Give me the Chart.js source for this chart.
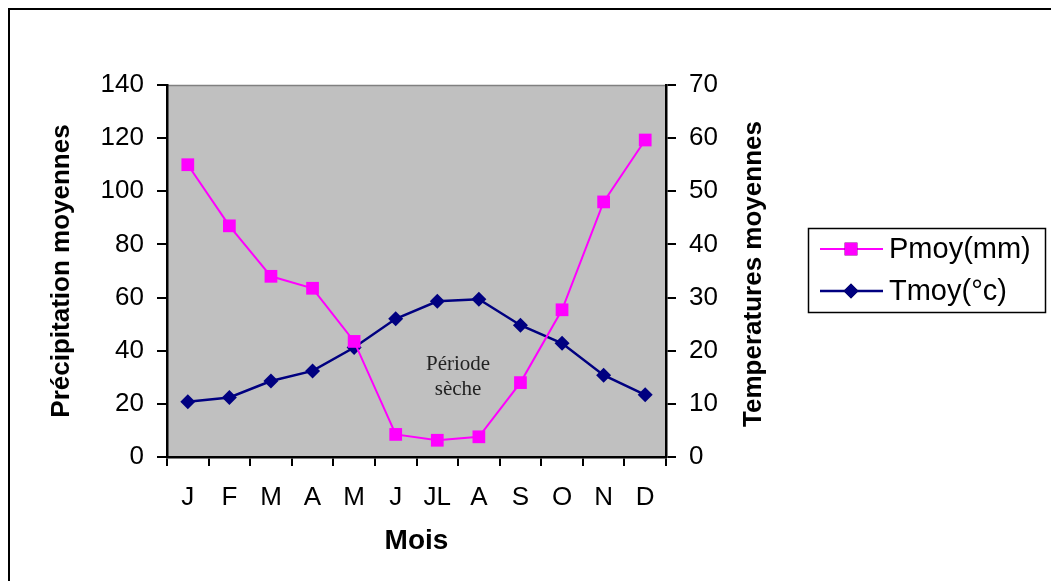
<!DOCTYPE html>
<html>
<head>
<meta charset="utf-8">
<script src="https://cdn.jsdelivr.net/npm/chart.js@4.4.1/dist/chart.umd.min.js"></script>
<style>
  html, body { margin: 0; padding: 0; background: #fff; }
  #wrap { position: relative; width: 1051px; height: 581px; }
</style>
</head>
<body>
<div id="wrap"><canvas id="plot"></canvas></div>
<script>
// donnees
const mois = ['J', 'F', 'M', 'A', 'M', 'J', 'JL', 'A', 'S', 'O', 'N', 'D'];
const pmoy = [110, 87, 68, 63.5, 43.5, 8.5, 6.3, 7.6, 28, 55.4, 96, 119.3];
const tmoy = [10.4, 11.2, 14.3, 16.2, 20.6, 26, 29.3, 29.7, 24.8, 21.4, 15.4, 11.7];
const ticksP = [0, 20, 40, 60, 80, 100, 120, 140];
const ticksT = [0, 10, 20, 30, 40, 50, 60, 70];
const annotation = ['Période', 'sèche'];
const titreDroite = 'Temperatures moyennes';

const police = '"Liberation Sans", Arial, sans-serif';

// fond gris de la zone de tracé + cadre
const fondPlugin = {
  id: 'fond',
  beforeDraw: (chart) => {
    let ctx = chart.ctx;
    let a = chart.chartArea;
    ctx.save();
    ctx.fillStyle = '#c0c0c0';
    ctx.fillRect(a.left, a.top, a.right - a.left, a.bottom - a.top);
    ctx.strokeStyle = '#808080';
    ctx.lineWidth = 1.5;
    ctx.beginPath();
    ctx.moveTo(a.left, a.top + 0.5);
    ctx.lineTo(a.right, a.top + 0.5);
    ctx.stroke();
    // cadre exterieur (haut et gauche)
    ctx.strokeStyle = '#000';
    ctx.lineWidth = 2;
    ctx.beginPath();
    ctx.moveTo(9, chart.height);
    ctx.lineTo(9, 9);
    ctx.lineTo(chart.width, 9);
    ctx.stroke();
    ctx.restore();
  }
};

// texte "Période sèche", titre de droite + légende encadrée
const textePlugin = {
  id: 'texte',
  afterDraw: (chart) => {
    let ctx = chart.ctx;
    let x = chart.scales.x;
    let y = chart.scales.y;
    let cx = (x.getPixelForValue(6) + x.getPixelForValue(7)) / 2;
    ctx.save();
    ctx.fillStyle = '#222';
    ctx.font = '21px "Liberation Serif", "Times New Roman", serif';
    ctx.textAlign = 'center';
    ctx.textBaseline = 'middle';
    ctx.fillText(annotation[0], cx, y.getPixelForValue(35));
    ctx.fillText(annotation[1], cx, y.getPixelForValue(25.5));

    // titre axe droit, lu de bas en haut
    let y1 = chart.scales.y1;
    ctx.save();
    ctx.translate(y1.right - 19, (y1.top + y1.bottom) / 2 + 3);
    ctx.rotate(-Math.PI / 2);
    ctx.fillStyle = '#000';
    ctx.font = 'bold 26px ' + police;
    ctx.fillText(titreDroite, 0, 0);
    ctx.restore();

    // legende
    ctx.strokeStyle = '#000';
    ctx.lineWidth = 1.5;
    ctx.strokeRect(808.5, 228.5, 237, 84);
    let rows = [249, 291];
    chart.data.datasets.forEach((ds, i) => {
      let ly = rows[i];
      ctx.strokeStyle = ds.borderColor;
      ctx.lineWidth = ds.borderWidth;
      ctx.beginPath();
      ctx.moveTo(820, ly);
      ctx.lineTo(883, ly);
      ctx.stroke();
      Chart.helpers.drawPoint(ctx, {
        pointStyle: ds.pointStyle, radius: ds.pointRadius, borderWidth: 0
      }, 851, ly);
      ctx.fillStyle = ds.backgroundColor;
      ctx.fill();
      ctx.fillStyle = '#000';
      ctx.font = '29px ' + police;
      ctx.textAlign = 'left';
      ctx.fillText(ds.label, 889, ly + 1);
    });
    ctx.restore();
  }
};

let axeY = (min, max, pas, position, largeur, titre, padTick) => ({
  type: 'linear',
  position: position,
  min: min,
  max: max,
  afterFit: (s) => { s.width = largeur; },
  afterBuildTicks: (s) => {
    let vals = position === 'left' ? ticksP : ticksT;
    s.ticks = vals.map(v => ({value: v}));
  },
  ticks: { color: '#000', font: { family: police, size: 26 }, padding: padTick, stepSize: pas },
  grid: { drawOnChartArea: false, drawTicks: true, tickLength: 10, color: '#000', lineWidth: 2 },
  border: { display: true, color: '#000', width: 2.5 },
  title: { display: titre !== '', text: titre, color: '#000', font: { family: police, size: 26, weight: 'bold' } }
});

let config = {
  type: 'line',
  data: {
    labels: mois,
    datasets: [
      {
        label: 'Pmoy(mm)',
        data: pmoy,
        yAxisID: 'y',
        borderColor: '#ff00ff',
        backgroundColor: '#ff00ff',
        borderWidth: 2,
        pointStyle: 'rect',
        pointRadius: 9,
        pointBorderWidth: 0,
        tension: 0
      },
      {
        label: 'Tmoy(°c)',
        data: tmoy,
        yAxisID: 'y1',
        borderColor: '#000080',
        backgroundColor: '#000080',
        borderWidth: 2.5,
        pointStyle: 'rectRot',
        pointRadius: 7.5,
        pointBorderWidth: 0,
        tension: 0
      }
    ]
  },
  options: {
    responsive: false,
    animation: false,
    layout: { padding: { left: 42, right: 278, top: 85, bottom: 19 } },
    plugins: { legend: { display: false }, tooltip: { enabled: false } },
    scales: {
      x: {
        type: 'category',
        offset: true,
        afterFit: (s) => { s.height = 105; },
        ticks: { color: '#000', font: { family: police, size: 26 }, padding: 16, autoSkip: false, maxRotation: 0 },
        grid: { offset: true, drawOnChartArea: false, drawTicks: true, tickLength: 9, color: '#000', lineWidth: 2 },
        border: { display: true, color: '#000', width: 2.5 },
        title: { display: true, text: 'Mois', color: '#000', font: { family: police, size: 28, weight: 'bold' } }
      },
      y: axeY(0, 140, 20, 'left', 125, 'Précipitation moyennes', 13),
      y1: axeY(0, 70, 10, 'right', 107, '', 13)
    }
  },
  plugins: [fondPlugin, textePlugin]
};

let canvas = document.getElementById('plot');
canvas.width = 1051;
canvas.height = 581;
let chart1 = new Chart(canvas, config);
</script>
</body>
</html>
